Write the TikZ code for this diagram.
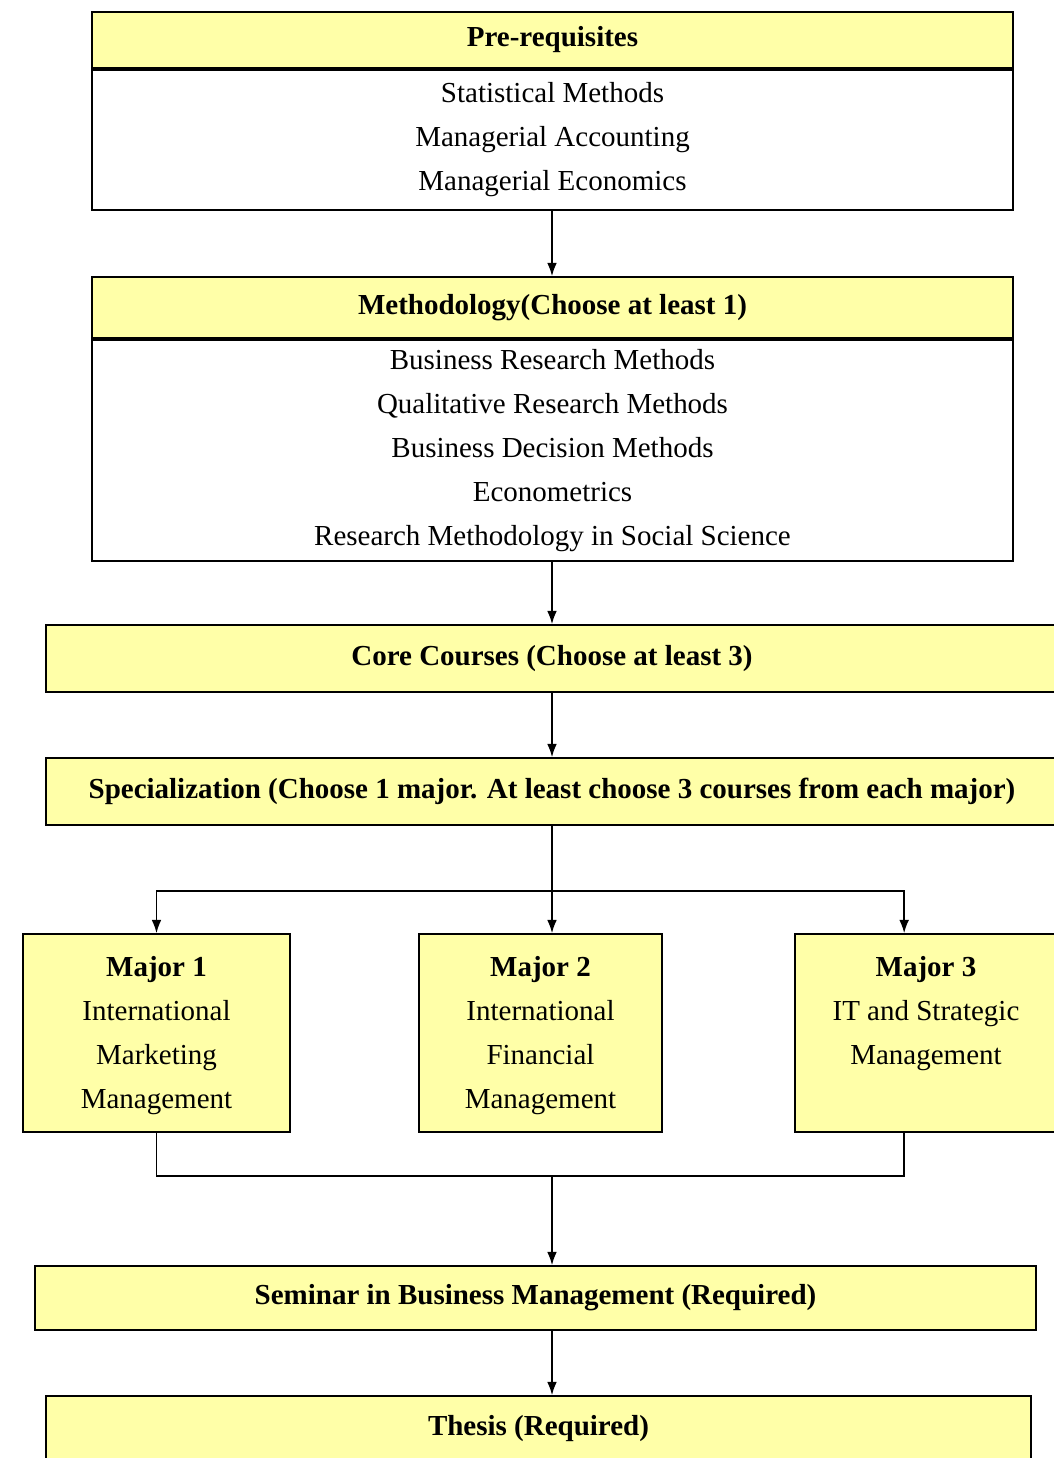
\documentclass[tikz,border=0pt]{standalone}
\usepackage{fontspec}
\setmainfont{Liberation Serif}
\usepackage{tikz}
\usetikzlibrary{arrows.meta}
\usetikzlibrary{calc}
\definecolor{boxyellow}{RGB}{255,255,168}
\tikzset{
	flow/.style={draw,line width=1pt,rectangle,inner sep=0pt},
	hdr/.style={flow,fill=boxyellow,font=\bfseries\fontsize{16.5}{25}\selectfont},
	lst/.style={flow,fill=white,align=center,font=\fontsize{16.5}{25}\selectfont},
	majorbox/.style={flow,fill=boxyellow,minimum height=3.96cm},
	majortext/.style={anchor=north,align=center,inner sep=0pt,font=\fontsize{16.5}{25}\selectfont},
	arr/.style={-{Latex[length=7.5pt,width=5.5pt]},line width=0.8pt}
}
\newcommand{\drawlistbox}[6]{
	\draw #1 node (#2) [hdr,minimum width=18.42cm,minimum height=#3] {#4};
	\draw (#2.south) node (#2b) [lst,anchor=north,minimum width=18.42cm,minimum height=#5] {#6};
}
\newcommand{\drawmajor}[4]{
	\draw #1 node (#2) [majorbox,minimum width=#3] {};
	\draw (#2.north) ++(0,23) node (#2t) [majortext] {#4};
}

\begin{document}
\begin{tikzpicture}[x=0.02cm,y=-0.02cm]
	\path[use as bounding box,fill=white] (0,0) rectangle (1054,1458);
	\coordinate (axis) at (552,0);
	\drawlistbox{(552.5,40)}{pre}{1.12cm}{Pre-requisites}{2.8cm}{Statistical Methods\\Managerial Accounting\\Managerial Economics}
	\drawlistbox{(552.5,307.5)}{meth}{1.22cm}{Methodology(Choose at least 1)}{4.42cm}{Business Research Methods\\Qualitative Research Methods\\Business Decision Methods\\Econometrics\\Research Methodology in Social Science}
	\draw (552,658.5) node (core) [hdr,minimum width=20.24cm,minimum height=1.34cm] {Core Courses (Choose at least 3)};
	\draw (552,791.5) node (spec) [hdr,minimum width=20.24cm,minimum height=1.34cm] {Specialization (Choose 1 major. At least choose 3 courses from each major)};
	\drawmajor{(156.5,1033)}{major1}{5.34cm}{\textbf{Major 1}\\International\\Marketing\\Management}
	\drawmajor{(540.5,1033)}{major2}{4.86cm}{\textbf{Major 2}\\International\\Financial\\Management}
	\drawmajor{(926,1033)}{major3}{5.24cm}{\textbf{Major 3}\\IT and Strategic\\Management}
	\draw (535.5,1298) node (seminar) [hdr,minimum width=20.02cm,minimum height=1.28cm] {Seminar in Business Management (Required)};
	\draw (538.5,1429) node (thesis) [hdr,minimum width=19.7cm,minimum height=1.32cm] {Thesis (Required)};
	% connectors
	\draw[arr] (preb.south -| axis) -- (meth.north -| axis);
	\draw[arr] (methb.south -| axis) -- (core.north -| axis);
	\draw[arr] (core.south -| axis) -- (spec.north -| axis);
	\coordinate (split) at (552,891);
	\coordinate (m3in) at ($(major3.north west)+(110,0)$);
	\draw[arr] (spec.south -| axis) -- (major2.north -| axis);
	\draw[arr] (split) -| (major1.north);
	\draw[arr] (split) -| (m3in);
	\coordinate (join) at (552,1176);
	\draw[line width=0.8pt] (major1.south) |- (join) -| ($(major3.south west)+(110,0)$);
	\draw[arr] (join) -- (seminar.north -| axis);
	\draw[arr] (seminar.south -| axis) -- (thesis.north -| axis);
\end{tikzpicture}
\end{document}
